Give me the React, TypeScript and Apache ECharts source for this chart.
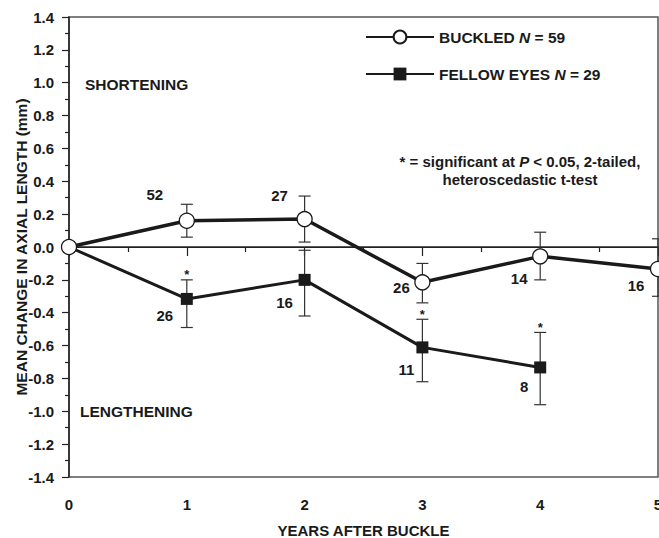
import React, { useEffect, useRef } from "react";
import * as echarts from "echarts";

const years = [0, 1, 2, 3, 4, 5];
const buckledMean = [0, 0.16, 0.17, -0.215, -0.057, -0.134];
const buckledUpper = [null, 0.26, 0.31, -0.1, 0.09, 0.05];
const buckledLower = [null, 0.06, 0.03, -0.34, -0.2, -0.3];
const buckledN = ["", "52", "27", "26", "14", "16"];

const fellowYears = [0, 1, 2, 3, 4];
const fellowMean = [0, -0.316, -0.2, -0.611, -0.733];
const fellowUpper = [null, -0.2, -0.02, -0.44, -0.52];
const fellowLower = [null, -0.49, -0.42, -0.82, -0.96];
const fellowN = ["", "26", "16", "11", "8"];
const fellowSig = [false, true, false, true, true];

const seriesNames = ["BUCKLED", "FELLOW EYES"];
const seriesTotals = [59, 29];

const FONT = "'Liberation Sans', Arial, Helvetica, sans-serif";
const INK = "#1a1a1a";

const buckledOffsets = [[0, 0], [-32, -26], [-25, -24], [-21, 5], [-21, 22], [-22, 16]];
const fellowOffsets = [[0, 0], [-22, 17], [-20, 23], [-16, 22], [-16, 19]];

function errData(xs: number[], lo: (number | null)[], hi: (number | null)[], sig?: boolean[]) {
  const out: number[][] = [];
  xs.forEach((x, i) => {
    if (lo[i] !== null && hi[i] !== null) out.push([x, lo[i] as number, hi[i] as number, sig && sig[i] ? 1 : 0]);
  });
  return out;
}

function renderErr(params: any, api: any) {
  const x = api.value(0);
  const lo = api.value(1);
  const hi = api.value(2);
  const sig = api.value(3);
  const pHi = api.coord([x, hi]);
  const pLo = api.coord([x, lo]);
  const cap = 6;
  const st = { stroke: "#333", lineWidth: 1.2 };
  const children: any[] = [
    { type: "line", shape: { x1: pHi[0], y1: pHi[1], x2: pLo[0], y2: pLo[1] }, style: st },
    { type: "line", shape: { x1: pHi[0] - cap, y1: pHi[1], x2: pHi[0] + cap, y2: pHi[1] }, style: st },
    { type: "line", shape: { x1: pLo[0] - cap, y1: pLo[1], x2: pLo[0] + cap, y2: pLo[1] }, style: st },
  ];
  if (sig) {
    children.push({
      type: "text",
      x: pHi[0],
      y: pHi[1] - 5,
      style: { text: "*", fill: INK, font: `bold 13px ${FONT}`, align: "center", verticalAlign: "middle" },
    });
  }
  return { type: "group", children };
}

export default function App() {
  const ref = useRef<HTMLDivElement>(null);
  useEffect(() => {
    document.body.style.margin = "0";
    if (!ref.current) return;
    const chart = echarts.init(ref.current, undefined, { renderer: "svg" });
    const labelStyle = { fontFamily: FONT, fontWeight: "bold" as const, fontSize: 15, color: INK };
    chart.setOption({
      animation: false,
      grid: {
        left: 69,
        right: 1,
        top: 17,
        bottom: 61,
        show: true,
        borderColor: "#555",
        borderWidth: 1.5,
        containLabel: false,
        outerBoundsMode: "none",
      },
      legend: {
        orient: "vertical",
        left: 365,
        top: 29,
        padding: 0,
        itemWidth: 68,
        itemHeight: 16,
        itemGap: 21,
        data: seriesNames,
        formatter: (name: string) => `${name} {i|N} = ${seriesTotals[seriesNames.indexOf(name)]}`,
        textStyle: {
          fontFamily: FONT,
          fontWeight: "bold",
          fontSize: 15.5,
          color: INK,
          rich: { i: { fontFamily: FONT, fontWeight: "bold", fontStyle: "italic", fontSize: 15.5, color: INK } },
        },
      },
      xAxis: {
        type: "value",
        min: 0,
        max: 5,
        interval: 1,
        name: "YEARS AFTER BUCKLE",
        nameLocation: "middle",
        nameGap: 46,
        nameMoveOverlap: false,
        nameTextStyle: { ...labelStyle, fontSize: 15 },
        axisLine: { lineStyle: { color: "#222", width: 1.5 } },
        axisTick: { length: 9, lineStyle: { color: "#222", width: 1.2 } },
        minorTick: { show: true, splitNumber: 2, length: 5, lineStyle: { color: "#222", width: 1.2 } },
        axisLabel: { ...labelStyle, margin: 20 },
        splitLine: { show: false },
      },
      yAxis: {
        type: "value",
        min: -1.4,
        max: 1.4,
        interval: 0.2,
        name: "MEAN CHANGE IN AXIAL LENGTH (mm)",
        nameLocation: "middle",
        nameGap: 40,
        nameMoveOverlap: false,
        nameTextStyle: { ...labelStyle, fontSize: 15.5 },
        axisLine: { lineStyle: { color: "#222", width: 1.5 } },
        axisTick: { length: 7, lineStyle: { color: "#222", width: 1.2 } },
        minorTick: { show: true, splitNumber: 2, length: 4, lineStyle: { color: "#222", width: 1.2 } },
        axisLabel: { ...labelStyle, margin: 15, formatter: (v: number) => v.toFixed(1) },
        splitLine: { show: false },
      },
      graphic: [
        { type: "text", left: 85, top: 76, style: { text: "SHORTENING", fill: INK, font: `bold 15.5px ${FONT}` } },
        { type: "text", left: 80, top: 403, style: { text: "LENGTHENING", fill: INK, font: `bold 15.5px ${FONT}` } },
        {
          type: "text",
          x: 520,
          y: 161,
          style: {
            text: "* = significant at {i|P} < 0.05, 2-tailed,",
            fill: INK,
            font: `bold 15px ${FONT}`,
            align: "center",
            verticalAlign: "middle",
            rich: { i: { fontFamily: FONT, fontWeight: "bold", fontStyle: "italic", fontSize: 15, fill: INK } },
          },
        },
        {
          type: "text",
          x: 520,
          y: 179,
          style: { text: "heteroscedastic t-test", fill: INK, font: `bold 15px ${FONT}`, align: "center", verticalAlign: "middle" },
        },
      ],
      series: [
        {
          type: "custom",
          name: "buckledErr",
          renderItem: renderErr,
          data: errData(years, buckledLower, buckledUpper),
          z: 1,
          silent: true,
        },
        {
          type: "custom",
          name: "fellowErr",
          renderItem: renderErr,
          data: errData(fellowYears, fellowLower, fellowUpper, fellowSig),
          z: 1,
          silent: true,
        },
        {
          type: "line",
          name: "FELLOW EYES",
          z: 3,
          symbol: "rect",
          symbolSize: 12,
          showAllSymbol: true,
          lineStyle: { color: INK, width: 3 },
          itemStyle: { color: INK, borderColor: INK, borderWidth: 0 },
          data: fellowYears.map((x, i) => ({
            value: [x, fellowMean[i]],
            label: {
              show: i > 0,
              position: "inside",
              formatter: fellowN[i],
              offset: fellowOffsets[i],
              ...labelStyle,
            },
          })),
        },
        {
          type: "line",
          name: "BUCKLED",
          z: 4,
          symbol: "circle",
          symbolSize: 15,
          showAllSymbol: true,
          lineStyle: { color: INK, width: 3.5 },
          itemStyle: { color: "#fff", borderColor: INK, borderWidth: 1.3 },
          data: years.map((x, i) => ({
            value: [x, buckledMean[i]],
            label: {
              show: i > 0,
              position: "inside",
              formatter: buckledN[i],
              offset: buckledOffsets[i],
              ...labelStyle,
            },
          })),
          markLine: {
            silent: true,
            symbol: "none",
            label: { show: false },
            lineStyle: { color: "#222", width: 1, type: "solid" },
            data: [{ yAxis: 0 }],
            z: 0,
          },
        },
      ],
    });
    return () => chart.dispose();
  }, []);
  return <div ref={ref} style={{ width: 659, height: 538 }} />;
}
